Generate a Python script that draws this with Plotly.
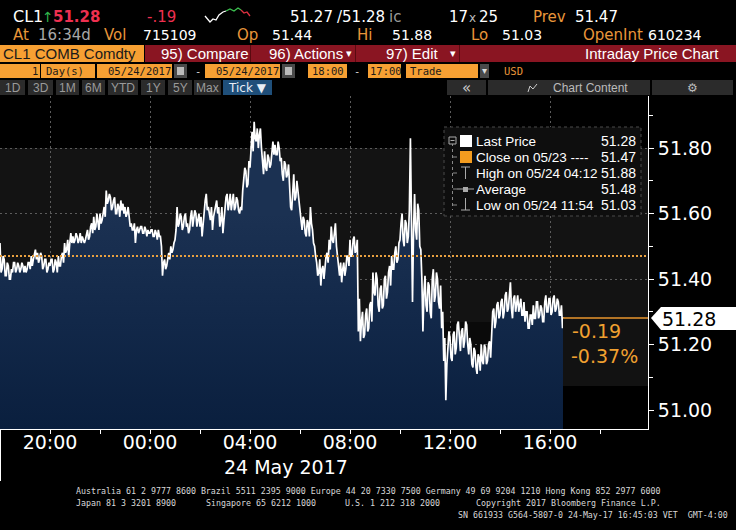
import plotly.graph_objects as go
import pandas as pd

W, H = 736, 530

# ---------------- data ----------------
# each 5-minute bucket: a first value (p) and an opposite extreme 2.5 min later (q)
session_start = "2017-05-23 18:00"
step = "150s"
p18 = [51.51, 51.43, 51.46, 51.41, 51.44, 51.40, 51.42, 51.45, 51.43, 51.44, 51.43, 51.44]
q18 = [51.42, 51.47, 51.41, 51.45, 51.40, 51.43, 51.45, 51.42, 51.45, 51.42, 51.45, 51.42]
p19 = [51.44, 51.43, 51.45, 51.47, 51.46, 51.49, 51.48, 51.46, 51.47, 51.44, 51.46, 51.43]
q19 = [51.42, 51.45, 51.43, 51.44, 51.48, 51.46, 51.45, 51.48, 51.43, 51.46, 51.42, 51.45]
p20 = [51.44, 51.46, 51.43, 51.45, 51.47, 51.44, 51.48, 51.51, 51.49, 51.47, 51.54, 51.53]
q20 = [51.46, 51.42, 51.46, 51.42, 51.44, 51.47, 51.45, 51.48, 51.52, 51.51, 51.51, 51.51]
p21 = [51.52, 51.53, 51.52, 51.51, 51.52, 51.52, 51.55, 51.53, 51.57, 51.59, 51.56, 51.58]
q21 = [51.54, 51.51, 51.54, 51.53, 51.51, 51.54, 51.52, 51.56, 51.54, 51.55, 51.60, 51.55]
p22 = [51.60, 51.58, 51.62, 51.67, 51.64, 51.65, 51.62, 51.65, 51.60, 51.62, 51.64, 51.63]
q22 = [51.57, 51.61, 51.59, 51.63, 51.66, 51.61, 51.64, 51.60, 51.63, 51.59, 51.61, 51.60]
p23 = [51.62, 51.60, 51.58, 51.57, 51.55, 51.51, 51.56, 51.55, 51.56, 51.54, 51.55, 51.55]
q23 = [51.59, 51.62, 51.56, 51.55, 51.57, 51.55, 51.54, 51.56, 51.54, 51.56, 51.53, 51.54]
p00 = [51.54, 51.55, 51.53, 51.54, 51.55, 51.53, 51.41, 51.46, 51.44, 51.48, 51.50, 51.49]
q00 = [51.55, 51.53, 51.55, 51.52, 51.53, 51.50, 51.45, 51.43, 51.47, 51.46, 51.48, 51.51]
p01 = [51.52, 51.62, 51.57, 51.59, 51.56, 51.60, 51.57, 51.55, 51.61, 51.59, 51.60, 51.58]
q01 = [51.55, 51.56, 51.60, 51.55, 51.59, 51.56, 51.54, 51.59, 51.56, 51.61, 51.56, 51.60]
p02 = [51.56, 51.53, 51.61, 51.66, 51.62, 51.58, 51.55, 51.61, 51.64, 51.62, 51.58, 51.54]
q02 = [51.59, 51.57, 51.64, 51.61, 51.59, 51.62, 51.59, 51.63, 51.60, 51.56, 51.62, 51.58]
p03 = [51.62, 51.66, 51.63, 51.61, 51.66, 51.62, 51.64, 51.60, 51.61, 51.70, 51.73, 51.69]
q03 = [51.65, 51.61, 51.66, 51.64, 51.61, 51.65, 51.61, 51.62, 51.67, 51.74, 51.68, 51.76]
p04 = [51.74, 51.85, 51.88, 51.82, 51.80, 51.86, 51.76, 51.79, 51.73, 51.77, 51.75, 51.82]
q04 = [51.80, 51.79, 51.83, 51.86, 51.84, 51.80, 51.72, 51.74, 51.78, 51.74, 51.79, 51.78]
p05 = [51.81, 51.78, 51.80, 51.77, 51.70, 51.75, 51.72, 51.66, 51.61, 51.72, 51.65, 51.67]
q05 = [51.78, 51.82, 51.76, 51.72, 51.76, 51.71, 51.75, 51.62, 51.66, 51.64, 51.70, 51.63]
p06 = [51.60, 51.55, 51.58, 51.53, 51.57, 51.62, 51.55, 51.50, 51.45, 51.42, 51.38, 51.44]
q06 = [51.56, 51.59, 51.54, 51.58, 51.53, 51.57, 51.51, 51.47, 51.41, 51.46, 51.43, 51.40]
p07 = [51.44, 51.48, 51.52, 51.56, 51.51, 51.57, 51.47, 51.41, 51.39, 51.45, 51.43, 51.47]
q07 = [51.47, 51.45, 51.49, 51.52, 51.55, 51.50, 51.43, 51.45, 51.43, 51.41, 51.47, 51.44]
p08 = [51.52, 51.47, 51.53, 51.49, 51.24, 51.21, 51.30, 51.23, 51.31, 51.25, 51.33, 51.42]
q08 = [51.47, 51.52, 51.48, 51.52, 51.34, 51.27, 51.22, 51.29, 51.24, 51.32, 51.27, 51.36]
p09 = [51.35, 51.40, 51.30, 51.38, 51.32, 51.41, 51.36, 51.44, 51.47, 51.43, 51.50, 51.46]
q09 = [51.42, 51.32, 51.37, 51.31, 51.40, 51.34, 51.42, 51.38, 51.43, 51.48, 51.45, 51.51]
p10 = [51.52, 51.60, 51.50, 51.57, 51.53, 51.83, 51.33, 51.66, 51.52, 51.61, 51.49, 51.24]
q10 = [51.57, 51.52, 51.58, 51.51, 51.61, 51.58, 51.55, 51.55, 51.63, 51.50, 51.40, 51.36]
p11 = [51.41, 51.30, 51.38, 51.28, 51.43, 51.35, 51.40, 51.31, 51.25, 51.15, 51.03, 51.20]
q11 = [51.32, 51.39, 51.30, 51.40, 51.33, 51.42, 51.33, 51.38, 51.30, 51.22, 51.14, 51.24]
p12 = [51.22, 51.15, 51.24, 51.19, 51.27, 51.18, 51.25, 51.21, 51.26, 51.17, 51.20, 51.13]
q12 = [51.16, 51.23, 51.17, 51.26, 51.20, 51.24, 51.19, 51.27, 51.20, 51.22, 51.14, 51.19]
p13 = [51.18, 51.11, 51.16, 51.20, 51.14, 51.19, 51.15, 51.21, 51.26, 51.31, 51.27, 51.33]
q13 = [51.13, 51.17, 51.12, 51.15, 51.20, 51.14, 51.20, 51.16, 51.30, 51.25, 51.32, 51.28]
p14 = [51.29, 51.34, 51.30, 51.36, 51.31, 51.39, 51.28, 51.35, 51.32, 51.30, 51.34, 51.29]
q14 = [51.33, 51.28, 51.35, 51.30, 51.37, 51.31, 51.34, 51.30, 51.35, 51.33, 51.29, 51.33]
p15 = [51.27, 51.30, 51.25, 51.29, 51.32, 51.28, 51.33, 51.29, 51.31, 51.27, 51.35, 51.30]
q15 = [51.30, 51.25, 51.29, 51.26, 51.28, 51.33, 51.28, 51.32, 51.27, 51.33, 51.30, 51.34]
p16 = [51.34, 51.30, 51.35, 51.31, 51.33, 51.29, 51.25]
q16 = [51.29, 51.34, 51.30, 51.34, 51.29, 51.32, 51.28]
last_time = "2017-05-24 16:34"
last_price = 51.28
prev_close = 51.47
y_ticks = [51.00, 51.20, 51.40, 51.60, 51.80]
x_ticks = ["2017-05-23 20:00", "2017-05-24 00:00", "2017-05-24 04:00",
           "2017-05-24 08:00", "2017-05-24 12:00", "2017-05-24 16:00"]
x_tick_labels = ["20:00", "00:00", "04:00", "08:00", "12:00", "16:00"]
x_range = ["2017-05-23 18:00", "2017-05-24 19:55:12"]
y_range = [50.942, 51.959]

p_all = (p18 + p19 + p20 + p21 + p22 + p23 + p00 + p01 + p02 + p03 + p04 + p05 +
         p06 + p07 + p08 + p09 + p10 + p11 + p12 + p13 + p14 + p15 + p16)
q_all = (q18 + q19 + q20 + q21 + q22 + q23 + q00 + q01 + q02 + q03 + q04 + q05 +
         q06 + q07 + q08 + q09 + q10 + q11 + q12 + q13 + q14 + q15 + q16)
prices = []
for a, b in zip(p_all, q_all):
    prices += [a, b]
times = list(pd.date_range(session_start, periods=len(prices), freq=step))
times.append(pd.Timestamp(last_time))
prices.append(last_price)

# ---------------- helpers ----------------
def px(x):
    return x / W

def py(y):
    return 1 - y / H

shapes = []
annos = []

def rect(x0, y0, x1, y1, color, layer="above", line=None):
    shapes.append(dict(type="rect", xref="paper", yref="paper",
                       x0=px(x0), x1=px(x1), y0=py(y1), y1=py(y0),
                       fillcolor=color, line=line or dict(width=0), layer=layer))

def hline(x0, x1, y, color, width=1, dash="solid", layer="above"):
    shapes.append(dict(type="line", xref="paper", yref="paper",
                       x0=px(x0), x1=px(x1), y0=py(y), y1=py(y),
                       line=dict(color=color, width=width, dash=dash), layer=layer))

def vline(x, y0, y1, color, width=1, dash="solid", layer="above"):
    shapes.append(dict(type="line", xref="paper", yref="paper",
                       x0=px(x), x1=px(x), y0=py(y0), y1=py(y1),
                       line=dict(color=color, width=width, dash=dash), layer=layer))

def path(points, color, width=1.2, fill=None):
    d = "M " + " L ".join(f"{px(a):.5f},{py(b):.5f}" for a, b in points)
    if fill:
        d += " Z"
    shapes.append(dict(type="path", xref="paper", yref="paper", path=d,
                       line=dict(color=color, width=width if not fill else 0),
                       fillcolor=fill, layer="above"))

def text(x, y, s, size, color, anchor="left", family="Liberation Sans", bold=False):
    if bold:
        s = f"<b>{s}</b>"
    annos.append(dict(x=px(x), y=py(y), xref="paper", yref="paper", text=s,
                      showarrow=False, xanchor=anchor, yanchor="middle",
                      font=dict(size=size, color=color, family=family),
                      borderpad=0))

ORANGE = "#f7a033"
RED_BAR = "#8a1522"
BTN = "#2b2b2b"
LBL_OR = "#e8963a"
MONO = "DejaVu Sans Mono"

# ---------------- plot background bands (below everything) ----------------
rect(0, 96, 648, 148, "#1b1b1b", layer="below")
rect(0, 148, 648, 322, "#131313", layer="below")
rect(0, 322, 648, 429, "#0a0a0a", layer="below")

# ---------------- header ----------------
# row 1
text(12, 17, "CL1", 16, "#ffffff", family="DejaVu Sans")
text(41, 17, "↑", 14, "#2fb34a", family="DejaVu Sans")
text(52, 17, "51.28", 15, "#ee3050", family="DejaVu Sans", bold=True)
text(146, 17, "-.19", 15, "#ee3050", family="DejaVu Sans")
path([(205, 16), (210, 22), (213, 19), (216, 20), (219, 15), (223, 12), (226, 11)], "#ffffff", 1.3)
path([(226, 11), (230, 9), (234, 11), (238, 8), (241, 10)], "#3cc050", 1.3)
path([(241, 10), (244, 13), (247, 12), (250, 16)], "#e03040", 1.3)
text(289, 17, "51.27", 15, "#ffffff", family="DejaVu Sans")
text(336, 17, "/51.28", 15, "#ffffff", family="DejaVu Sans")
text(388, 17, "ic", 15, "#9a9a9a", family="DejaVu Sans")
text(448, 17, "17", 15, "#ffffff", family="DejaVu Sans")
text(468, 18, "x", 12, "#bbbbbb", family="DejaVu Sans")
text(478, 17, "25", 15, "#ffffff", family="DejaVu Sans")
text(532, 17, "Prev", 15, LBL_OR, family="DejaVu Sans")
text(574, 17, "51.47", 15, "#ffffff", family="DejaVu Sans")
# row 2
text(12, 35, "At", 15, LBL_OR, family="DejaVu Sans")
text(37, 35, "16:34d", 15, "#a8a8a8", family="DejaVu Sans")
text(103, 35, "Vol", 15, LBL_OR, family="DejaVu Sans")
text(142, 35, "715109", 14, "#ffffff", family="DejaVu Sans")
text(236, 35, "Op", 15, LBL_OR, family="DejaVu Sans")
text(271, 35, "51.44", 14, "#ffffff", family="DejaVu Sans")
text(356, 35, "Hi", 15, LBL_OR, family="DejaVu Sans")
text(391, 35, "51.88", 14, "#ffffff", family="DejaVu Sans")
text(470, 35, "Lo", 15, LBL_OR, family="DejaVu Sans")
text(501, 35, "51.03", 14, "#ffffff", family="DejaVu Sans")
text(582, 35, "OpenInt", 15, LBL_OR, family="DejaVu Sans")
text(647, 35, "610234", 14, "#ffffff", family="DejaVu Sans")
# row 3
rect(0, 45, 144, 62, ORANGE)
rect(145, 45, 736, 62, RED_BAR)
vline(250.5, 45, 62, "#5a0a10")
vline(355.5, 45, 62, "#5a0a10")
vline(459.5, 45, 62, "#5a0a10")
text(2, 53.5, "CL1 COMB Comdty", 15, "#1a1a1a")
text(160, 53.5, "95) Compare", 15, "#ffffff")
text(268, 53.5, "96) Actions", 15, "#ffffff")
text(345, 53.5, "▾", 11, "#ffffff", family="DejaVu Sans")
text(385, 53.5, "97) Edit", 15, "#ffffff")
text(449, 53.5, "▾", 11, "#ffffff", family="DejaVu Sans")
text(720, 53.5, "Intraday Price Chart", 15, "#ffffff", anchor="right")
# row 4
rect(0, 64, 40, 78, ORANGE)
rect(41, 64, 95, 78, ORANGE)
rect(97, 64, 172, 78, ORANGE)
rect(174, 64, 187, 78, "#4a4a4a")
rect(177, 67, 184, 75, "#bbbbbb")
rect(205, 64, 280, 78, ORANGE)
rect(282, 64, 295, 78, "#4a4a4a")
rect(285, 67, 292, 75, "#bbbbbb")
rect(308, 64, 347, 78, ORANGE)
rect(368, 64, 401, 78, ORANGE)
rect(406, 64, 478, 78, ORANGE)
rect(480, 64, 489, 78, "#4a4a4a")
text(39, 71, "1", 10.5, "#1a1a1a", anchor="right", family=MONO)
text(45, 71, "Day(s)", 10.5, "#1a1a1a", family=MONO)
text(107, 71, "05/24/2017", 10.5, "#1a1a1a", family=MONO)
text(194, 71, "-", 10.5, "#dddddd", family=MONO)
text(215, 71, "05/24/2017", 10.5, "#1a1a1a", family=MONO)
text(311, 71, "18:00", 10.5, "#1a1a1a", family=MONO)
text(353, 71, "-", 10.5, "#dddddd", family=MONO)
text(369, 71, "17:00", 10.5, "#1a1a1a", family=MONO)
text(409, 71, "Trade", 10.5, "#1a1a1a", family=MONO)
text(481, 71, "▾", 10, "#dddddd", family="DejaVu Sans")
text(503, 71, "USD", 10.5, LBL_OR, family=MONO)
# row 5 buttons
for (a, b, s) in [(0, 25, "1D"), (28, 53, "3D"), (56, 79, "1M"), (82, 105, "6M"),
                  (108, 138, "YTD"), (141, 165, "1Y"), (168, 192, "5Y"), (194, 221, "Max")]:
    rect(a, 80, b, 95, BTN)
    text((a + b) / 2, 87.5, s, 12, "#9a9a9a", anchor="center")
rect(223, 80, 272, 95, "#1f4f7a")
text(247.5, 87.5, "Tick ▼", 12, "#e8eef5", anchor="center", family="DejaVu Sans")
rect(447, 80, 486, 95, BTN)
text(466.5, 87.5, "«", 15, "#cccccc", anchor="center", family="DejaVu Sans")
rect(488, 80, 650, 95, BTN)
text(552, 87.5, "Chart Content", 12, "#bbbbbb")
path([(528, 92), (530, 86), (533, 89), (537, 84)], "#cccccc", 1)
rect(652, 80, 733, 95, BTN)
text(692, 87.5, "⚙", 12, "#bbbbbb", anchor="center", family="DejaVu Sans")

# ---------------- legend box ----------------
rect(444, 127, 641, 216, "#0e0e0e", line=dict(color="#4a4a4a", width=1, dash="dot"))
vline(452.5, 143, 210, "#888888", dash="dot")
rect(449, 137, 456, 144, "#0e0e0e", line=dict(color="#aaaaaa", width=1))
hline(450.5, 454.5, 140.5, "#aaaaaa")
for yy in (157, 173, 189, 205):
    hline(453, 457, yy, "#888888")
rect(460, 135, 472, 147, "#ffffff")
rect(460, 151, 472, 163, "#f39c1f")
vline(465.5, 167, 179, "#aaaaaa")
hline(461, 470, 167, "#aaaaaa")
hline(457, 474, 189, "#aaaaaa")
rect(463, 187, 468, 192, "#aaaaaa")
vline(465.5, 198, 210, "#aaaaaa")
hline(461, 470, 210, "#aaaaaa")
leg_rows = [("Last Price", "51.28"), ("Close on 05/23 ----", "51.47"),
            ("High on 05/24 04:12", "51.88"), ("Average", "51.48"),
            ("Low on 05/24 11:54", "51.03")]
for i, (lab, val) in enumerate(leg_rows):
    yy = 141 + 16 * i
    text(475, yy, lab, 13.5, "#ffffff")
    text(637, yy, val, 14, "#ffffff", anchor="right")

# ---------------- change box & last price label ----------------
rect(563, 318, 648, 386, "#121212")
rect(563, 386, 648, 429, "#000000")
hline(563, 648, 318, "#e8962e", width=1.5)
text(571, 331, "-0.19", 19, "#f0a030", family="DejaVu Sans")
text(570, 356, "-0.37%", 19, "#f0a030", family="DejaVu Sans")
path([(651, 318), (661, 307), (736, 307), (736, 330), (661, 330)], "#ffffff", fill="#ffffff")
text(661, 318.5, "51.28", 19, "#000000", family="DejaVu Sans")

# ---------------- axis frame extras ----------------
vline(0.5, 429, 481, "#ffffff")
text(286, 467, "24 May 2017", 19, "#ffffff", anchor="center", family="DejaVu Sans")

# ---------------- footer ----------------
FOOT = "#d8d8d8"
text(75, 491, "Australia 61 2 9777 8600 Brazil 5511 2395 9000 Europe 44 20 7330 7500 Germany 49 69 9204 1210 Hong Kong 852 2977 6000",
     8.3, FOOT, family=MONO)
text(75, 503, "Japan 81 3 3201 8900", 8.3, FOOT, family=MONO)
text(205, 503, "Singapore 65 6212 1000", 8.3, FOOT, family=MONO)
text(344, 503, "U.S. 1 212 318 2000", 8.3, FOOT, family=MONO)
text(475, 503, "Copyright 2017 Bloomberg Finance L.P.", 8.3, FOOT, family=MONO)
text(729, 515, "SN 661933 G564-5807-0 24-May-17 16:45:03 VET  GMT-4:00", 8.3, FOOT,
     anchor="right", family=MONO)

# ---------------- figure ----------------
fig = go.Figure()
fig.add_trace(go.Scatter(
    x=times, y=prices, mode="lines", line=dict(color="#ffffff", width=1.7, shape="linear"),
    fill="tozeroy",
    fillgradient=dict(type="vertical", start=y_range[0], stop=51.6,
                      colorscale=[[0, "#0a1f3e"], [0.5, "#122849"], [1, "#1b3152"]]),
    hoverinfo="skip", showlegend=False))

# previous close dotted line
fig.add_shape(type="line", xref="paper", yref="y", x0=0, x1=648 / W,
              y0=prev_close, y1=prev_close,
              line=dict(color="#e8a040", width=2, dash="2px,2px"), layer="above")

fig.update_layout(
    width=W, height=H,
    margin=dict(l=0, r=0, t=0, b=0, pad=0),
    paper_bgcolor="#000000", plot_bgcolor="rgba(0,0,0,0)",
    showlegend=False,
    shapes=shapes + list(fig.layout.shapes),
    annotations=annos,
    xaxis=dict(domain=[0, 648 / W], type="date", range=x_range,
               tickmode="array", tickvals=x_ticks, ticktext=x_tick_labels,
               tickfont=dict(size=19, color="#ffffff", family="DejaVu Sans"),
               ticks="outside", ticklen=4, tickcolor="#ffffff", tickwidth=1,
               ticklabelstandoff=-8,
               minor=dict(dtick=2 * 3600 * 1000, tick0="2017-05-23 18:00",
                          ticks="outside", ticklen=4, tickcolor="#ffffff", showgrid=False),
               showgrid=True, gridcolor="#5c5c5c", gridwidth=1, griddash="2px,3px",
               showline=True, linecolor="#ffffff", linewidth=1,
               zeroline=False, fixedrange=True, automargin=False),
    yaxis=dict(domain=[1 - 429 / H, 1 - 96 / H], range=y_range, side="right",
               tickmode="array", tickvals=y_ticks,
               ticktext=[f"{v:.2f}" for v in y_ticks],
               tickfont=dict(size=19, color="#ffffff", family="DejaVu Sans"),
               ticks="outside", ticklen=5, tickcolor="#ffffff",
               minor=dict(dtick=0.1, tick0=51.0, ticks="outside", ticklen=4,
                          tickcolor="#ffffff", showgrid=False),
               showgrid=True, gridcolor="#5c5c5c", gridwidth=1, griddash="2px,3px",
               showline=True, linecolor="#ffffff", linewidth=1,
               zeroline=False, fixedrange=True, automargin=False),
)

fig.write_html(
    "out.html",
    config={"displayModeBar": False},
    post_script="document.body.style.margin='0';document.body.style.padding='0';"
                "document.documentElement.style.overflow='hidden';",
)
